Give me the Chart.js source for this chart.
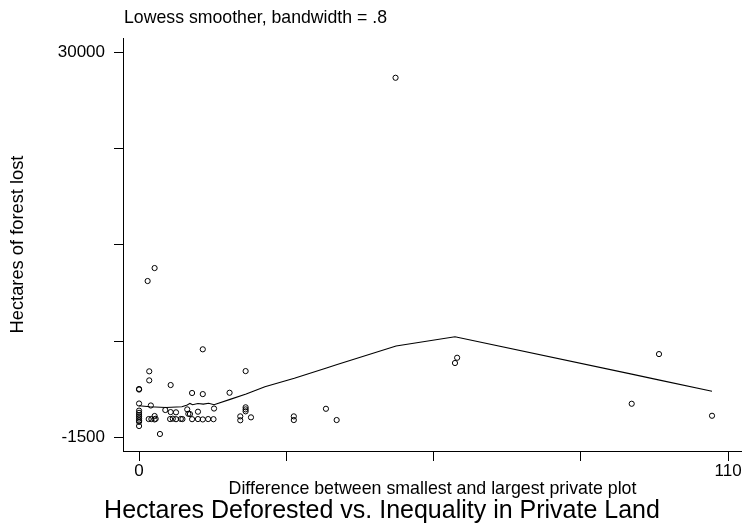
<!DOCTYPE html>
<html>
<head>
<meta charset="utf-8">
<script src="https://cdn.jsdelivr.net/npm/chart.js@4.4.0/dist/chart.umd.min.js"></script>
<style>
  body { margin: 0; background: #fff; }
  canvas { display: block; }
</style>
</head>
<body>
<canvas id="lowess" width="742" height="525"></canvas>
<script>
// difference between smallest and largest private plot (x) vs hectares of forest lost (y)
const plotGap = [47.9, 2.9, 1.6, 11.9, 1.9, 19.9, 1.9, 5.9, 0, 0, 9.9, 11.9, 16.9, 59.4, 59.0, 97.1, 92.0, 107.0,
  0, 2.2, 14.0, 4.9, 5.9, 6.9, 9.0, 11.0, 9.5, 19.9, 19.9, 19.9, 18.9, 18.9, 20.9, 28.9, 28.9, 34.9, 36.9, 3.9,
  0, 0, 0, 0, 0, 0, 0, 0, 2.9, 1.8, 2.3, 2.9, 3.1, 5.8, 6.3, 6.9, 7.8, 8.1, 9.9, 11.0, 11.9, 12.9, 13.9, 9.2]
const forestLost = [27900, 12350, 11290, 5710, 3910, 3930, 3170, 2790, 2420, 2470, 2140, 2050, 2160, 5020, 4590, 5320, 1260, 280,
  1280, 1120, 870, 750, 580, 560, 800, 610, 420, 970, 800, 640, 230, -90, 150, 230, -70, 850, -70, -1210,
  -560, 700, 520, 350, 200, 50, -100, -220, 260, 10, 10, -20, 30, 10, 40, 0, 20, 10, 0, 10, -20, 10, 0, 440]

// lowess fit
const smoothX = [0, 2, 5, 8, 9, 9.5, 10, 11, 12, 13, 14, 17, 20, 23.5, 29, 35, 37, 48, 59, 92, 97, 107]
const smoothY = [1100, 1020, 950, 1020, 1160, 1290, 1180, 1280, 1230, 1300, 1180, 1620, 2050, 2650, 3340, 4180, 4470, 5980, 6740, 3680, 3210, 2280]

const xTicks = [0, 27.5, 55, 82.5, 110]
const yTicks = [-1500, 6375, 14250, 22125, 30000]
const xLabelled = [0, 110]
const yLabelled = [-1500, 30000]

const subtitle = 'Lowess smoother, bandwidth = .8'
const mainTitle = 'Hectares Deforested vs. Inequality in Private Land'

const FONT = '"Liberation Sans", Arial, sans-serif'

let points = plotGap.map((x, i) => ({ x: x, y: forestLost[i] }))
let curve = smoothX.map((x, i) => ({ x: x, y: smoothY[i] }))

// stata-like titles drawn straight on the canvas
const titles = {
  id: 'titles',
  afterDraw(chart) {
    const ctx = chart.ctx
    ctx.save()
    ctx.fillStyle = '#000'
    ctx.textBaseline = 'alphabetic'
    ctx.font = '17.7px ' + FONT
    ctx.textAlign = 'left'
    ctx.fillText(subtitle, 124, 23)
    ctx.font = '25px ' + FONT
    ctx.textAlign = 'center'
    ctx.fillText(mainTitle, 382, 518)
    ctx.restore()
  }
}

const config = {
  type: 'scatter',
  data: {
    datasets: [
      {
        label: 'Hectares of forest lost',
        data: points,
        pointStyle: 'circle',
        pointRadius: 2.6,
        borderWidth: 1,
        borderColor: '#000',
        backgroundColor: 'rgba(0,0,0,0)'
      },
      {
        label: 'lowess',
        data: curve,
        showLine: true,
        pointRadius: 0,
        borderColor: '#000',
        borderWidth: 1.1,
        tension: 0
      }
    ]
  },
  options: {
    responsive: false,
    animation: false,
    devicePixelRatio: 1,
    layout: { autoPadding: false, padding: { top: 38, right: 0, bottom: 0, left: 0 } },
    plugins: {
      legend: { display: false },
      tooltip: { enabled: false }
    },
    scales: {
      x: {
        type: 'linear',
        min: -3,
        max: 112.6,
        afterBuildTicks: (scale) => { scale.ticks = xTicks.map(v => ({ value: v })) },
        afterFit: (scale) => {
          scale.height = 74
          scale.paddingLeft = 0
          scale.paddingRight = 0
        },
        ticks: {
          color: '#000',
          padding: 0,
          maxRotation: 0,
          autoSkip: false,
          font: { family: FONT, size: 17 },
          callback: (v) => xLabelled.includes(v) ? String(v) : ''
        },
        grid: { drawOnChartArea: false, drawTicks: true, tickLength: 10, color: '#000' },
        border: { display: true, color: '#000', width: 1 },
        title: {
          display: true,
          text: 'Difference between smallest and largest private plot',
          color: '#000',
          font: { family: FONT, size: 17.8, lineHeight: 1.2 },
          padding: { top: 0, bottom: 25 }
        }
      },
      y: {
        type: 'linear',
        min: -2600,
        max: 31150,
        afterBuildTicks: (scale) => { scale.ticks = yTicks.map(v => ({ value: v })) },
        afterFit: (scale) => {
          scale.width = 123
          scale.paddingTop = 0
          scale.paddingBottom = 0
        },
        ticks: {
          color: '#000',
          padding: 9,
          autoSkip: false,
          font: { family: FONT, size: 17 },
          callback: (v) => yLabelled.includes(v) ? String(v) : ''
        },
        grid: { drawOnChartArea: false, drawTicks: true, tickLength: 9, color: '#000' },
        border: { display: true, color: '#000', width: 1 },
        title: {
          display: true,
          text: 'Hectares of forest lost',
          color: '#000',
          font: { family: FONT, size: 18.3, lineHeight: 1.2 },
          padding: { top: 7, bottom: 0 }
        }
      }
    }
  },
  plugins: [titles]
}

let chart_lowess = new Chart(document.getElementById('lowess'), config)
</script>
</body>
</html>
